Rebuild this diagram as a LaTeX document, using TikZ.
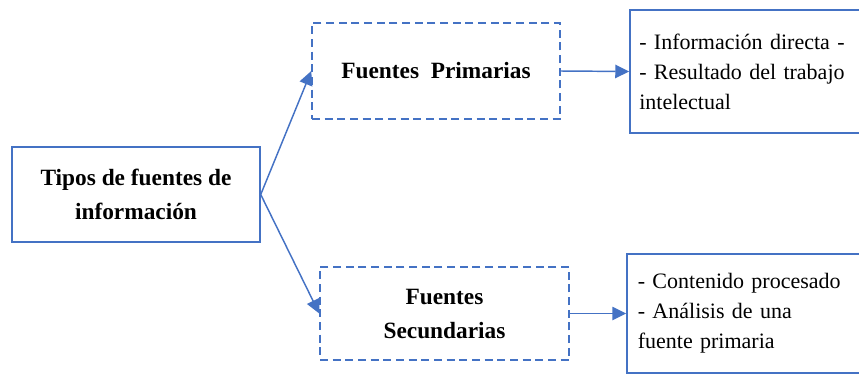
\documentclass[tikz,border=0pt]{standalone}
\usepackage{fontspec}
\setmainfont{Liberation Serif}
\usepackage{tikz}
\usetikzlibrary{arrows.meta}
\definecolor{boxblue}{RGB}{68,114,196}

\begin{document}
\begin{tikzpicture}[x=0.75pt,y=0.75pt,yscale=-1,xscale=1,
    solidbox/.style={draw=boxblue, line width=1.1pt, inner sep=0pt},
    dashbox/.style={draw=boxblue, line width=1.1pt, inner sep=0pt, dash pattern={on 6pt off 3.5pt}},
    titletext/.style={font=\fontsize{17.5}{25.5}\selectfont\bfseries, align=center},
    listtext/.style={font=\fontsize{16.5}{22.5}\selectfont, align=left},
    link/.style={draw=boxblue, line width=1.1pt, -{Triangle[length=10.5pt,width=10pt]}}]
    %set diagram to 859 x 375
    \useasboundingbox (0,0) rectangle (859,375);

    % Main Node
    \node [solidbox, titletext, minimum width=186pt, minimum height=71.25pt] (tipos) at (136,194.5)
        {Tipos\ de\ fuentes\ de\\informaci\'on};
    % Dashed Nodes
    \node [dashbox, titletext, minimum width=186pt, minimum height=72pt] (primarias) at (436,71)
        {Fuentes\ \ Primarias};
    \node [dashbox, titletext, minimum width=186.75pt, minimum height=69.75pt] (secundarias) at (444.5,313.5)
        {Fuentes\\Secundarias};
    % Text Nodes
    \node [solidbox, listtext, minimum width=174pt, minimum height=92.25pt, text width=160pt] (directa) at (746,71.5)
        {- Informaci\'on directa -\\- Resultado del trabajo\\intelectual};
    \node [solidbox, listtext, minimum width=176.25pt, minimum height=89.25pt, text width=160pt] (procesado) at (744.5,313.5)
        {- Contenido procesado\\- An\'alisis de una\\fuente primaria};

    % Arrows
    \draw [link] (tipos.east) -- (primarias.west);
    \draw [link] (tipos.east) -- (secundarias.west);
    \draw [link] (primarias.east) -- (directa.west);
    \draw [link] (secundarias.east) -- (procesado.west);

\end{tikzpicture}
\end{document}
